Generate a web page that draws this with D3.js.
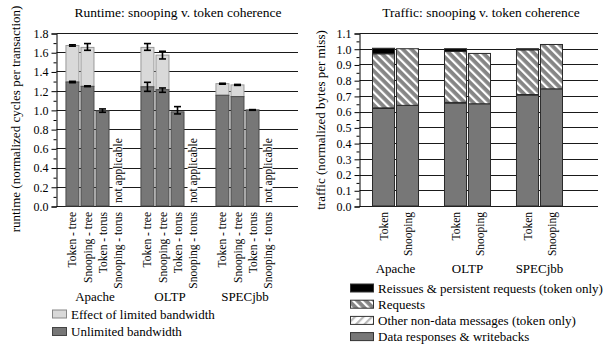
<!DOCTYPE html>
<html><head><meta charset="utf-8">
<script src="https://cdn.jsdelivr.net/npm/d3@7"></script>
<style>
body{margin:0;background:#fff}
svg{display:block}
text{font-family:"Liberation Serif","Times New Roman",serif;fill:#000}
</style>
</head><body><svg id="c" width="606" height="346"></svg>
<script>
// ---------- data ----------
const benchmarks = ["Apache", "OLTP", "SPECjbb"];
const runtimeConfigs = ["Token - tree", "Snooping - tree", "Token - torus", "Snooping - torus"];
// runtime with unlimited bandwidth (null = not applicable)
const unlimitedRuntime = [[1.29, 1.245, 0.99, null], [1.24, 1.21, 0.98, null], [1.152, 1.138, 1.0, null]];
// runtime with limited bandwidth (total bar height)
const limitedRuntime = [[1.67, 1.65, 0.99, null], [1.65, 1.57, 0.98, null], [1.273, 1.26, 1.0, null]];
// error bars [low, high]
const limitedErr = [
  [[1.663, 1.677], [1.62, 1.69], [0.975, 1.01], null],
  [[1.62, 1.69], [1.53, 1.61], [0.958, 1.034], null],
  [[1.267, 1.277], [1.255, 1.265], [0.996, 1.003], null]];
const unlimitedErr = [
  [[1.283, 1.297], [1.242, 1.25], null, null],
  [[1.193, 1.287], [1.183, 1.228], null, null],
  [null, null, null, null]];
const runtimeTicks = [0, 0.2, 0.4, 0.6, 0.8, 1.0, 1.2, 1.4, 1.6, 1.8];
const runtimeMinor = [0.1, 0.3, 0.5, 0.7, 0.9, 1.1, 1.3, 1.5, 1.7];

const trafficConfigs = ["Token", "Snooping"];
const dataResponses = [[0.62, 0.64], [0.655, 0.65], [0.705, 0.745]];
const otherNonData = [[0.004, 0], [0.004, 0], [0.004, 0]];
const requests = [[0.344, 0.36], [0.324, 0.32], [0.284, 0.282]];
const reissues = [[0.035, 0], [0.017, 0], [0.007, 0]];
const trafficTicks = [0, 0.1, 0.2, 0.3, 0.4, 0.5, 0.6, 0.7, 0.8, 0.9, 1.0, 1.1];
const trafficMinor = [0.05, 0.15, 0.25, 0.35, 0.45, 0.55, 0.65, 0.75, 0.85, 0.95, 1.05];

// ---------- setup ----------
const svg = d3.select("#c");
const defs = svg.append("defs");
const DARK = "#777777", LIGHT = "#d9d9d9";

const p1 = defs.append("pattern").attr("id", "hatchReq").attr("patternUnits", "userSpaceOnUse")
  .attr("width", 6).attr("height", 6).attr("patternTransform", "rotate(-45)");
p1.append("rect").attr("width", 6).attr("height", 6).attr("fill", "#858585");
p1.append("rect").attr("x", 0).attr("width", 2.2).attr("height", 6).attr("fill", "#fff");

const p2 = defs.append("pattern").attr("id", "hatchOther").attr("patternUnits", "userSpaceOnUse")
  .attr("width", 6).attr("height", 6).attr("patternTransform", "rotate(45)");
p2.append("rect").attr("width", 6).attr("height", 6).attr("fill", "#fff");
p2.append("rect").attr("x", 0).attr("width", 2.2).attr("height", 6).attr("fill", "#bbb");

function drawGrid(g, y, axisX, rightX, ticks) {
  g.append("g").selectAll("line").data(ticks).join("line")
    .attr("x1", axisX).attr("x2", rightX)
    .attr("y1", d => Math.round(y(d)) + 0.5).attr("y2", d => Math.round(y(d)) + 0.5)
    .attr("stroke", "#1a1a1a").attr("stroke-width", 1);
}
function drawYAxis(g, y, axisX, ticks, minor) {
  const yr = d3.scaleLinear().domain(y.domain()).range(y.range().map(v => Math.round(v) + 0.5));
  const a = g.append("g").attr("transform", `translate(${axisX},0)`)
    .call(d3.axisLeft(yr).tickValues(ticks).tickFormat(d3.format(".1f")).tickSize(5).tickPadding(3));
  a.selectAll("text").style("font-size", "12px").style("font-family", "'Liberation Serif',serif");
  a.selectAll("line,path").attr("stroke", "#000");
  const m = g.append("g").attr("transform", `translate(${axisX},0)`)
    .call(d3.axisLeft(yr).tickValues(minor).tickFormat("").tickSize(3));
  m.select("path").remove();
  m.selectAll("line").attr("stroke", "#000");
}

// ---------- left chart: runtime ----------
const L = svg.append("g");
const yL = d3.scaleLinear().domain([0, 1.8]).range([206, 33]);
const x0L = d3.scaleBand().domain(benchmarks).range([65, 275]).paddingInner(0.2);
const x1L = d3.scaleBand().domain(runtimeConfigs).range([0, x0L.bandwidth()]).paddingInner(0.07).paddingOuter(0.03);
const axisXL = 56.5;

drawGrid(L, yL, axisXL, 298, runtimeTicks);

const rtRows = [];
benchmarks.forEach((b, gi) => runtimeConfigs.forEach((c, ci) => {
  rtRows.push({b, c, unl: unlimitedRuntime[gi][ci], lim: limitedRuntime[gi][ci],
               eL: limitedErr[gi][ci], eU: unlimitedErr[gi][ci]});
}));
const bx = d => x0L(d.b) + x1L(d.c);
const valid = rtRows.filter(d => d.unl !== null);

L.append("g").selectAll("rect").data(valid.filter(d => d.lim > d.unl)).join("rect")
  .attr("x", d => bx(d) + 0.5).attr("width", x1L.bandwidth() - 1)
  .attr("y", d => yL(d.lim)).attr("height", d => yL(d.unl) - yL(d.lim))
  .attr("fill", LIGHT).attr("stroke", "#9a9a9a").attr("stroke-width", 1);
L.append("g").selectAll("rect").data(valid).join("rect")
  .attr("x", d => bx(d) + 0.5).attr("width", x1L.bandwidth() - 1)
  .attr("y", d => yL(d.unl)).attr("height", d => yL(0) - yL(d.unl))
  .attr("fill", DARK).attr("stroke", "#4a4a4a").attr("stroke-width", 1);

function errBars(data, key) {
  const gg = L.append("g").attr("stroke", "#000").attr("stroke-width", 1.6);
  data.filter(d => d[key]).forEach(d => {
    const cx = bx(d) + x1L.bandwidth() / 2;
    const [lo, hi] = d[key];
    gg.append("line").attr("x1", cx).attr("x2", cx).attr("y1", yL(lo)).attr("y2", yL(hi));
    gg.append("line").attr("x1", cx - 3.5).attr("x2", cx + 3.5).attr("y1", yL(lo)).attr("y2", yL(lo));
    gg.append("line").attr("x1", cx - 3.5).attr("x2", cx + 3.5).attr("y1", yL(hi)).attr("y2", yL(hi));
  });
}
errBars(valid, "eL");
errBars(valid, "eU");

// "not applicable"
rtRows.filter(d => d.unl === null).forEach(d => {
  const cx = bx(d) + x1L.bandwidth() / 2;
  const t = L.append("text").attr("transform", `translate(${cx},203) rotate(-90)`)
    .attr("dy", "0.35em").style("font-size", "11.5px").text("not applicable");
  const w = t.node().getComputedTextLength();
  L.insert("rect", "text").attr("x", cx - 5).attr("width", 10).attr("y", 203 - w - 1).attr("height", w + 2).attr("fill", "#fff");
});

drawYAxis(L, yL, axisXL, runtimeTicks, runtimeMinor);

// x labels
L.append("g").selectAll("text").data(rtRows).join("text")
  .attr("transform", d => `translate(${bx(d) + x1L.bandwidth() / 2},212) rotate(-90)`)
  .attr("dy", "0.35em").attr("text-anchor", "end").style("font-size", "11.5px").text(d => d.c);
L.append("g").selectAll("text").data(benchmarks).join("text")
  .attr("x", d => x0L(d) + x0L.bandwidth() / 2).attr("y", 301).attr("text-anchor", "middle")
  .style("font-size", "13px").text(d => d);

L.append("text").attr("x", 178).attr("y", 17).attr("text-anchor", "middle").style("font-size", "13.5px")
  .text("Runtime: snooping v. token coherence");
L.append("text").attr("transform", "translate(15,119) rotate(-90)").attr("dy", "0.35em")
  .attr("text-anchor", "middle").style("font-size", "13px").text("runtime (normalized cycles per transaction)");

const legL = [{label: "Effect of limited bandwidth", fill: LIGHT, stroke: "#888"},
              {label: "Unlimited bandwidth", fill: DARK, stroke: "#444"}];
legL.forEach((d, i) => {
  const cy = 314 + i * 17.5;
  L.append("rect").attr("x", 52.5).attr("y", cy - 4).attr("width", 14).attr("height", 8)
    .attr("fill", d.fill).attr("stroke", d.stroke);
  L.append("text").attr("x", 71).attr("y", cy).attr("dy", "0.35em").style("font-size", "13px").text(d.label);
});

// ---------- right chart: traffic ----------
const R = svg.append("g");
const yR = d3.scaleLinear().domain([0, 1.1]).range([206, 33]);
const x0R = d3.scaleBand().domain(benchmarks).range([372, 563]).paddingInner(0.347);
const x1R = d3.scaleBand().domain(trafficConfigs).range([0, x0R.bandwidth()]).paddingInner(0.04);
const axisXR = 359.5;

drawGrid(R, yR, axisXR, 598, trafficTicks);

const trRows = [];
benchmarks.forEach((b, gi) => trafficConfigs.forEach((c, ci) => {
  trRows.push({b, c, data: dataResponses[gi][ci], other: otherNonData[gi][ci],
               req: requests[gi][ci], reissue: reissues[gi][ci]});
}));
const keys = ["data", "other", "req", "reissue"];
const fills = {data: DARK, other: "url(#hatchOther)", req: "url(#hatchReq)", reissue: "#000"};
const stacked = d3.stack().keys(keys)(trRows);
const bxR = d => x0R(d.b) + x1R(d.c);
stacked.forEach(layer => {
  R.append("g").selectAll("rect").data(layer.filter(s => s[1] - s[0] > 0)).join("rect")
    .attr("x", s => bxR(s.data) + 0.5).attr("width", x1R.bandwidth() - 1)
    .attr("y", s => yR(s[1])).attr("height", s => yR(s[0]) - yR(s[1]))
    .attr("fill", fills[layer.key]).attr("stroke", "#2a2a2a").attr("stroke-width", 1);
});

drawYAxis(R, yR, axisXR, trafficTicks, trafficMinor);

R.append("g").selectAll("text").data(trRows).join("text")
  .attr("transform", d => `translate(${bxR(d) + x1R.bandwidth() / 2},212) rotate(-90)`)
  .attr("dy", "0.35em").attr("text-anchor", "end").style("font-size", "11.5px").text(d => d.c);
R.append("g").selectAll("text").data(benchmarks).join("text")
  .attr("x", d => x0R(d) + x0R.bandwidth() / 2).attr("y", 273).attr("text-anchor", "middle")
  .style("font-size", "13px").text(d => d);

R.append("text").attr("x", 481).attr("y", 17).attr("text-anchor", "middle").style("font-size", "13.5px")
  .text("Traffic: snooping v. token coherence");
R.append("text").attr("transform", "translate(320,120) rotate(-90)").attr("dy", "0.35em")
  .attr("text-anchor", "middle").style("font-size", "13px").text("traffic (normalized bytes per miss)");

const legR = [{label: "Reissues & persistent requests (token only)", fill: "#000"},
              {label: "Requests", fill: "url(#hatchReq)"},
              {label: "Other non-data messages (token only)", fill: "url(#hatchOther)"},
              {label: "Data responses & writebacks", fill: DARK}];
legR.forEach((d, i) => {
  const cy = 288 + i * 16.2;
  R.append("rect").attr("x", 350.5).attr("y", cy - 4).attr("width", 23).attr("height", 8)
    .attr("fill", d.fill).attr("stroke", "#333");
  R.append("text").attr("x", 378).attr("y", cy).attr("dy", "0.35em").style("font-size", "13px").text(d.label);
});
</script>
</body></html>
